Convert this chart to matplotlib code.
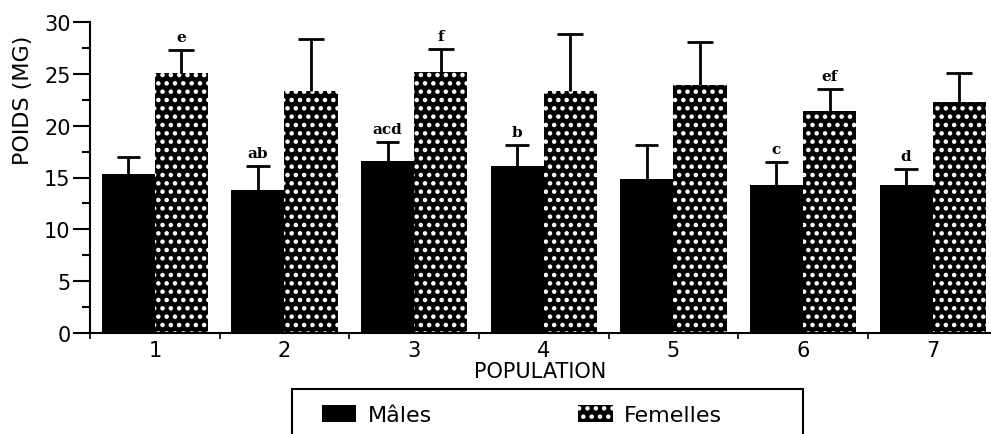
import numpy as np
import matplotlib
matplotlib.use("Agg")
import matplotlib.pyplot as plt
from matplotlib.patches import Rectangle, Patch
from matplotlib.ticker import MultipleLocator

# donnees
populations = ["1", "2", "3", "4", "5", "6", "7"]
males = [15.3, 13.8, 16.6, 16.1, 14.9, 14.3, 14.3]
males_err = [1.7, 2.3, 1.8, 2.0, 3.2, 2.2, 1.5]
femelles = [25.1, 23.3, 25.2, 23.3, 23.9, 21.4, 22.3]
femelles_err = [2.2, 5.1, 2.2, 5.5, 4.2, 2.1, 2.8]
lettres_m = ["", "ab", "acd", "b", "", "c", "d"]
lettres_f = ["e", "", "f", "", "", "ef", ""]

plt.rcParams['hatch.color'] = 'white'
plt.rcParams['hatch.linewidth'] = 2.0
plt.rcParams['font.family'] = 'DejaVu Sans'

fig = plt.figure(figsize=(9.91, 4.35), dpi=100)
ax = fig.add_axes([90/991, 1-334/435, (991-90)/991, (334-23)/435])

x = np.arange(1, len(populations)+1)
w = 0.41

ax.bar(x - w/2, males, w, color='black', linewidth=0)
ax.bar(x + w/2, femelles, w, color='black', linewidth=0, hatch='..')

# barres d'erreur (seulement vers le haut)
xm = x - w/2
xf = x + w/2
hm = np.array(males) + np.array(males_err)
hf = np.array(femelles) + np.array(femelles_err)
ax.vlines(xm, males, hm, color='black', linewidth=2)
ax.hlines(hm, xm - 0.09, xm + 0.09, color='black', linewidth=2)
ax.vlines(xf, femelles, hf, color='black', linewidth=2)
ax.hlines(hf, xf - 0.1, xf + 0.1, color='black', linewidth=2)

for i in range(len(x)):
    if lettres_m[i]:
        ax.text(xm[i], hm[i] + 0.6, lettres_m[i],
                ha='center', va='bottom', fontsize=11, fontweight='bold', family='serif')
    if lettres_f[i]:
        ax.text(xf[i], hf[i] + 0.6, lettres_f[i],
                ha='center', va='bottom', fontsize=11, fontweight='bold', family='serif')

ax.set_xlim(0.5, 7.45)
ax.set_ylim(0, 30)
ax.set_xticks(x)
ax.set_xticklabels(populations)
ax.set_xticks(np.arange(0.5, 7.5, 1), minor=True)
ax.tick_params(axis='x', which='major', length=0, labelsize=15, pad=5)
ax.tick_params(axis='x', which='minor', length=4, width=1.2, direction='out')
ax.yaxis.set_major_locator(MultipleLocator(5))
ax.yaxis.set_minor_locator(MultipleLocator(2.5))
ax.tick_params(axis='y', which='major', length=12, width=1.5, labelsize=15, pad=2)
ax.tick_params(axis='y', which='minor', length=6, width=1.5)

ax.spines['top'].set_visible(False)
ax.spines['right'].set_visible(False)
ax.spines['left'].set_linewidth(1.5)
ax.spines['bottom'].set_linewidth(1.5)

ax.set_xlabel('POPULATION', fontsize=15, labelpad=1)
ax.set_ylabel('POIDS (MG)', fontsize=16)
ax.yaxis.set_label_coords(-0.063, 0.75)

# cadre de la legende (coupe en bas)
fig.patches.append(Rectangle((292/991, -0.05), 511/991, 0.05 + 45/435,
                             transform=fig.transFigure, fill=False,
                             edgecolor='black', linewidth=1.5))
handles = [Patch(facecolor='black', label='Mâles'),
           Patch(facecolor='black', hatch='..', label='Femelles')]
fig.legend(handles=handles, loc='upper left', ncol=2, frameon=False,
           bbox_to_anchor=(302/991, 1-386/435), fontsize=16,
           columnspacing=6.6, handlelength=1.55, handleheight=0.8, handletextpad=0.5)

fig.savefig('out.png', dpi=100)
